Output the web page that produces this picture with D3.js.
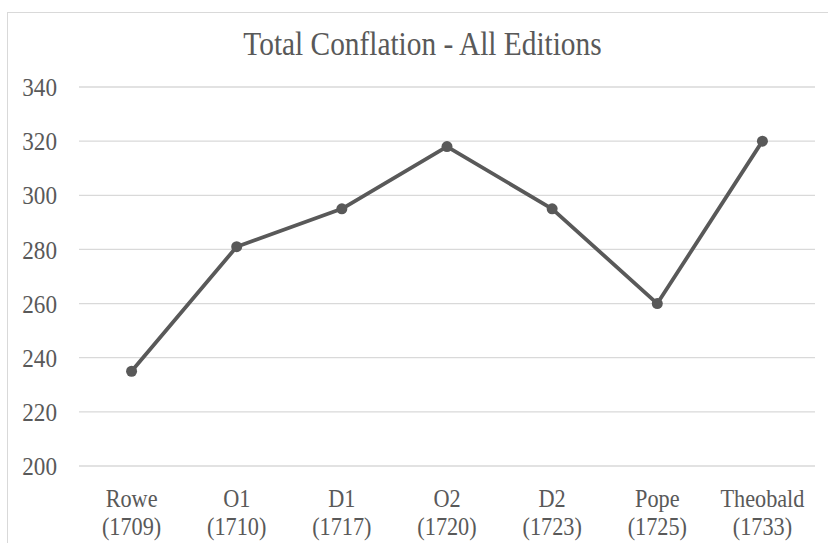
<!DOCTYPE html>
<html>
<head>
<meta charset="utf-8">
<script src="https://cdn.jsdelivr.net/npm/d3@7"></script>
</head>
<body style="margin:0">
<div id="c"></div>
<script>
// Data
const categories = ["Rowe", "O1", "D1", "O2", "D2", "Pope", "Theobald"]
const years = ["(1709)", "(1710)", "(1717)", "(1720)", "(1723)", "(1725)", "(1733)"]
const values = [235, 281, 295, 318, 295, 260, 320]
const yTicks = [200, 220, 240, 260, 280, 300, 320, 340]

// Set margins and dimensions
const W = 828, H = 543
const MARGIN = { LEFT: 79, RIGHT: 13, TOP: 87, BOTTOM: 77 }
const WIDTH = W - MARGIN.LEFT - MARGIN.RIGHT
const HEIGHT = H - MARGIN.TOP - MARGIN.BOTTOM
const FONT = "Liberation Serif"
const TEXT = "#595959"
const SQUEEZE = 0.89 // the reference type is a bit narrow

const svg = d3.select("#c").append("svg")
  .attr("width", W)
  .attr("height", H)

// Chart border (right/bottom run off the picture)
svg.append("rect")
  .attr("x", 7.5).attr("y", 12.5)
  .attr("width", 830).attr("height", 560)
  .attr("fill", "none")
  .attr("stroke", "#d9d9d9")
  .attr("stroke-width", 1)

// Title
svg.append("text")
  .attr("transform", `translate(422.5, 55) scale(${SQUEEZE}, 1)`)
  .attr("text-anchor", "middle")
  .style("font-family", () => `"${FONT}"`)
  .style("font-size", "33px")
  .style("fill", TEXT)
  .text("Total Conflation - All Editions")

const g = svg.append("g")
  .attr("transform", `translate(${MARGIN.LEFT}, ${MARGIN.TOP})`)

// Scales
const x = d3.scaleBand()
  .domain(categories)
  .range([0, WIDTH])

const y = d3.scaleLinear()
  .domain([200, 340])
  .range([HEIGHT, 0])

// Gridlines
g.append("g")
  .selectAll("line")
  .data(yTicks)
  .enter().append("line")
  .attr("x1", 0)
  .attr("x2", WIDTH)
  .attr("y1", d => y(d))
  .attr("y2", d => y(d))
  .attr("stroke", "#d9d9d9")
  .attr("stroke-width", 1.3)

// Y axis
const yAxisCall = d3.axisLeft(y)
  .tickValues(yTicks)
  .tickSize(0)
const yAxis = g.append("g")
  .attr("class", "y axis")
  .call(yAxisCall)
yAxis.attr("font-family", null)
yAxis.select(".domain").remove()
yAxis.selectAll("text")
  .attr("x", -22 / SQUEEZE)
  .attr("dy", "0.33em")
  .attr("transform", `scale(${SQUEEZE}, 1)`)
  .style("font-family", () => `"${FONT}"`)
  .style("font-size", "26px")
  .style("fill", TEXT)

// X axis
const xAxisCall = d3.axisBottom(x).tickSize(0).tickFormat("")
const xAxis = g.append("g")
  .attr("class", "x axis")
  .attr("transform", `translate(0, ${HEIGHT})`)
  .call(xAxisCall)
xAxis.attr("font-family", null)
xAxis.select(".domain").remove()
xAxis.selectAll(".tick").append("text")
  .attr("text-anchor", "middle")
  .attr("transform", `scale(${SQUEEZE}, 1)`)
  .style("font-family", () => `"${FONT}"`)
  .style("font-size", "25px")
  .style("fill", TEXT)
  .each(function (d, i) {
    const t = d3.select(this)
    t.append("tspan").attr("x", 0).attr("y", 41).text(d)
    t.append("tspan").attr("x", 0).attr("y", 69).text(years[i])
  })

// Line
const line = d3.line()
  .x((d, i) => x(categories[i]) + x.bandwidth() / 2)
  .y(d => y(d))

g.append("path")
  .datum(values)
  .attr("fill", "none")
  .attr("stroke", "#595959")
  .attr("stroke-width", 3.8)
  .attr("stroke-linejoin", "round")
  .attr("d", line)

// Markers
g.selectAll("circle")
  .data(values)
  .enter().append("circle")
  .attr("cx", (d, i) => x(categories[i]) + x.bandwidth() / 2)
  .attr("cy", d => y(d))
  .attr("r", 5.5)
  .attr("fill", "#595959")
</script>
</body>
</html>
